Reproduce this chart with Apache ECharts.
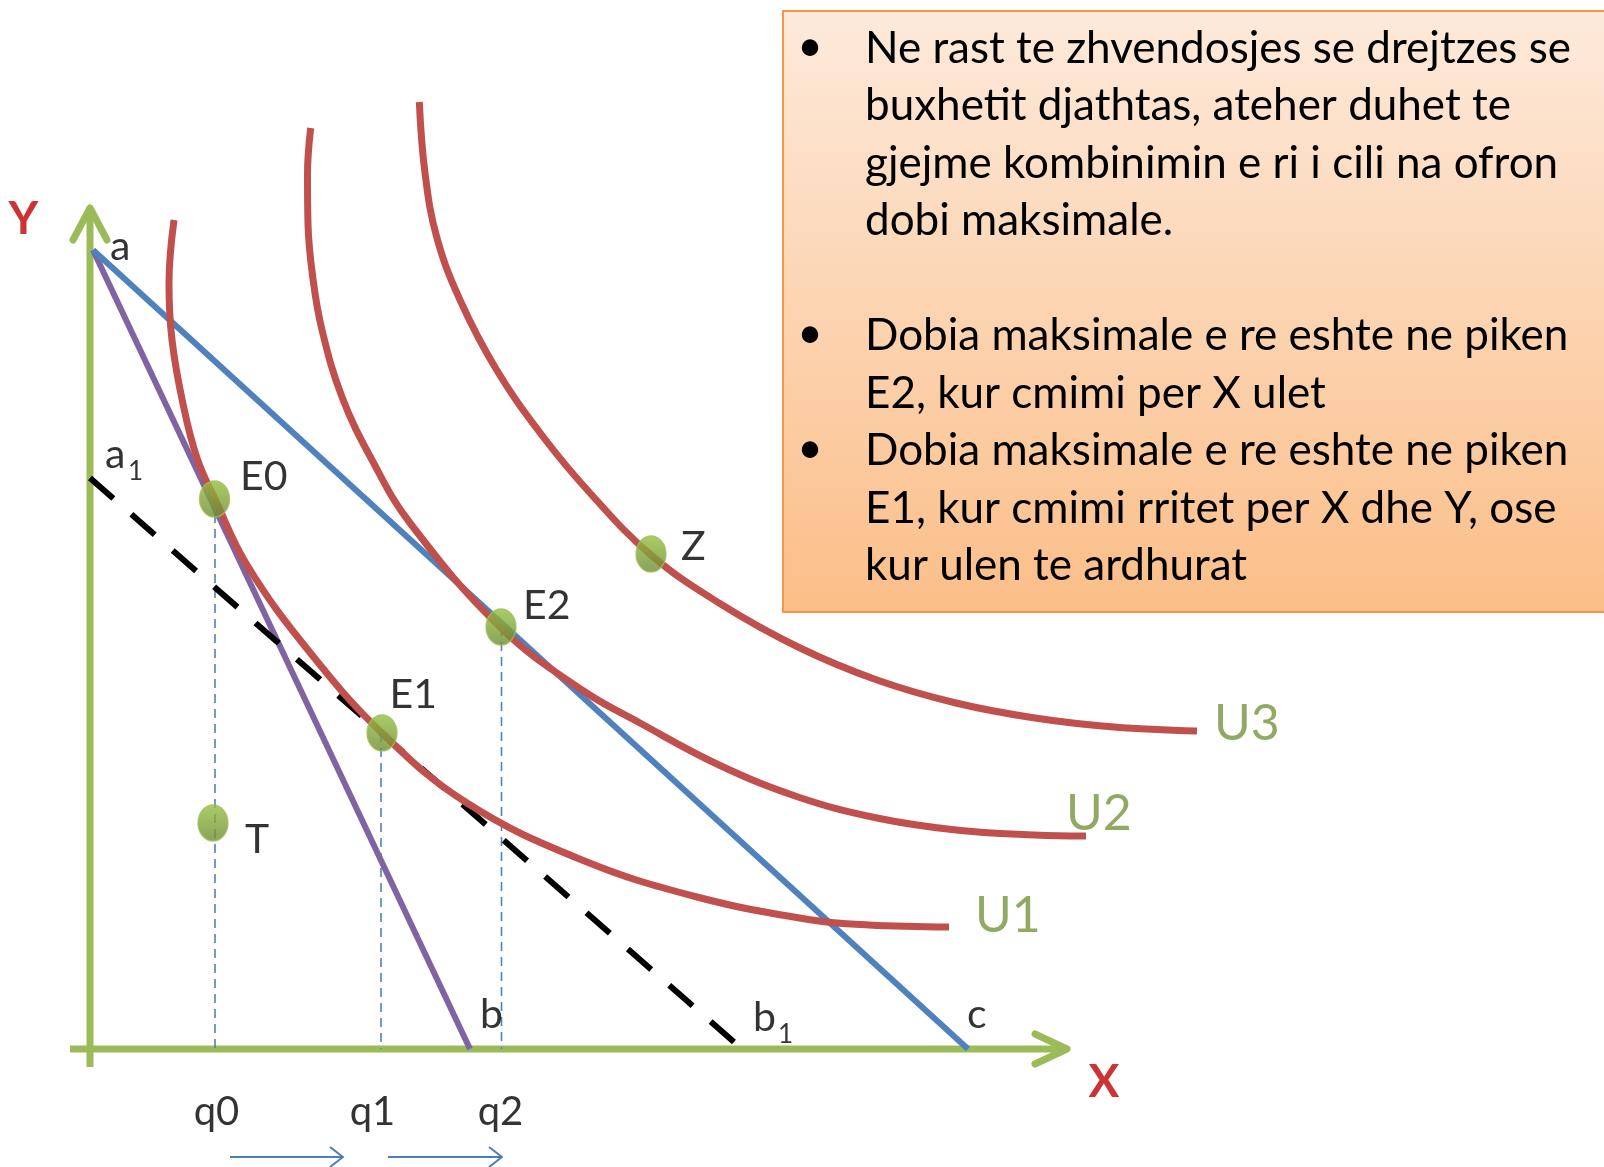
<!DOCTYPE html>
<html>
<head>
<meta charset="utf-8">
<script src="https://cdn.jsdelivr.net/npm/echarts@6/dist/echarts.min.js"></script>
<style>
html,body{margin:0;padding:0;background:#fff;}
#c{width:1604px;height:1167px;}
</style>
</head>
<body>
<div id="c"></div>
<script>
// ---------------- data (chart units: origin at the axes' corner) ----------------
const axisYLine = [[0, -1.8], [0, 84.1]];
const axisXLine = [[-2.0, 0], [97.7, 0]];

const budgetAB = [[0.3, 79.9], [38.0, 0]];     // a -> b (purple)
const budgetAC = [[0.3, 79.9], [87.8, 0]];     // a -> c (blue)
const budgetA1B1 = [[0, 57.1], [65.2, 0]];     // a1 -> b1 (dashed)

const curveU1 = [[8.4,82.9],[7.9,76.6],[8.2,70.9],[9.3,64.5],[10.7,59.1],[12.5,55.0],[15.7,48.4],[21.8,39.9],[29.2,31.6],[37.7,24.6],[49.2,18.9],[60.7,15.2],[72.2,12.9],[77.9,12.4],[85.9,12.2]];
const curveU2 = [[22.07,92.1],[21.75,87.5],[21.8,82.5],[22.3,77.0],[23.2,71.9],[25.2,65.2],[28.2,58.9],[32.0,52.6],[41.1,42.1],[49.2,35.9],[55.0,32.6],[62.9,28.4],[70.8,25.2],[78.7,23.1],[86.6,21.9],[94.5,21.4],[99.6,21.3]];
const curveU3 = [[32.93,94.7],[33.5,87.6],[34.67,81.2],[37.0,74.9],[40.67,67.9],[45.33,61.2],[50.0,55.6],[56.1,49.4],[62.9,44.6],[70.8,40.2],[78.7,36.9],[86.6,34.6],[94.5,33.1],[102.4,32.2],[110.7,31.8]];
const curveNames = ['U1', 'U2', 'U3'];

const pointNames = ['E0', 'E1', 'E2', 'Z', 'T'];
const pointX = [12.45, 29.2, 41.1, 56.1, 12.3];
const pointY = [55.0, 31.6, 42.2, 49.5, 22.6];

const qNames = ['q0', 'q1', 'q2'];
const qX = [12.5, 29.1, 41.15];
const qTopY = [55.0, 31.6, 42.2];

const shiftArrows = [[14.0, 25.3], [29.8, 41.2]];
const shiftArrowY = -10.8;

const lineLetters = ['a', 'b', 'c', 'a1', 'b1'];
const axisNames = ['X', 'Y'];

const boxLines = [
  'Ne rast te zhvendosjes se drejtzes se',
  'buxhetit djathtas, ateher duhet te',
  'gjejme kombinimin e ri i cili na ofron',
  'dobi maksimale.',
  '',
  'Dobia maksimale e re eshte ne piken',
  'E2, kur cmimi per X ulet',
  'Dobia maksimale e re eshte ne piken',
  'E1, kur cmimi rritet per X dhe Y, ose',
  'kur ulen te ardhurat'
];
const bulletLines = [0, 5, 7];

// ---------------- build ----------------
const FONT = 'Lato, "Open Sans", sans-serif';
const GREEN_AXIS = '#9BBB59';
const RED = '#C0504D';
const series = [];

function line(data, color, width, opts) {
  opts = opts || {};
  series.push({
    type: 'line', data: data, showSymbol: false, symbol: 'none', silent: true,
    smooth: opts.smooth || false, clip: false, z: opts.z || 2,
    lineStyle: { color: color, width: width, type: opts.type || 'solid',
                 cap: opts.cap || 'butt', join: 'round' }
  });
}

// axes
line(axisYLine, GREEN_AXIS, 7, { z: 1 });
line(axisXLine, GREEN_AXIS, 7, { z: 1 });
const yt = axisYLine[1], xt = axisXLine[1];
line([[yt[0] - 1.7, yt[1] - 3.2], yt, [yt[0] + 1.7, yt[1] - 3.2]], GREEN_AXIS, 7, { z: 1, cap: 'round' });
line([[xt[0] - 3.2, xt[1] + 1.5], xt, [xt[0] - 3.2, xt[1] - 1.5]], GREEN_AXIS, 7, { z: 1, cap: 'round' });

// dotted drop lines
qX.forEach((x, i) => line([[x, qTopY[i]], [x, 0]], '#4F81BD', 1.6, { z: 2, type: [9, 6] }));

// budget lines
line(budgetAB, '#8064A2', 6, { z: 3 });
line(budgetAC, '#4F81BD', 6, { z: 3 });
line(budgetA1B1, '#000000', 6, { z: 3, type: [31, 24] });

// indifference curves
[curveU1, curveU2, curveU3].forEach(c => line(c, RED, 7, { z: 4, smooth: 0.4 }));

// shift arrows under q labels
shiftArrows.forEach(([x0, x1]) => {
  line([[x0, shiftArrowY], [x1, shiftArrowY]], '#4A7EBB', 2, { z: 2 });
  line([[x1 - 1.3, shiftArrowY + 1.0], [x1, shiftArrowY], [x1 - 1.3, shiftArrowY - 1.0]], '#4A7EBB', 2, { z: 2 });
});

// points
series.push({
  type: 'scatter', z: 5, silent: true,
  symbol: 'circle', symbolSize: [30, 36],
  data: pointX.map((x, i) => [x, pointY[i]]),
  itemStyle: {
    color: new echarts.graphic.LinearGradient(0, 0, 0, 1, [
      { offset: 0, color: '#96C040' }, { offset: 1, color: '#6C8A32' }]),
    borderColor: '#9DC15A', borderWidth: 1.5
  }
});

// annotations
const ann = [];
const styles = {
  blk: { fontSize: 41, color: '#000', align: 'left' },
  sub: { fontSize: 26, color: '#000', align: 'left' },
  grn: { fontSize: 50, color: '#77933C', align: 'left' },
  q:   { fontSize: 40, color: '#000', align: 'center' },
  red: { fontSize: 46, color: '#C00000', align: 'center', fontWeight: 'bold' }
};
function A(pt, text, dx, dy, kind) { ann.push({ pt, text, dx, dy, kind }); }

const ptOff = [[25.5, -22], [7.5, -38], [22, -21.3], [30, -7.3], [32, 17]];
pointNames.forEach((n, i) => A([pointX[i], pointY[i]], n, ptOff[i][0], ptOff[i][1], 'blk'));

A(budgetAB[0], lineLetters[0], 17, -3, 'blk');
A(budgetAB[1], lineLetters[1], 10, -34, 'blk');
A(budgetAC[1], lineLetters[2], -1, -34, 'blk');
A(budgetA1B1[0], lineLetters[3].charAt(0), 15, -23, 'blk');
A(budgetA1B1[0], lineLetters[3].charAt(1), 38, -6, 'sub');
A(budgetA1B1[1], lineLetters[4].charAt(0), 11, -31, 'blk');
A(budgetA1B1[1], lineLetters[4].charAt(1), 36, -14, 'sub');

const uOff = [[26, -11], [-20, -22], [17, -7]];
[curveU1, curveU2, curveU3].forEach((c, i) => A(c[c.length - 1], curveNames[i], uOff[i][0], uOff[i][1], 'grn'));

const qOff = [1.5, -8.5, -1];
qNames.forEach((n, i) => A([qX[i], 0], n, qOff[i], 63, 'q'));

A(axisXLine[1], axisNames[0], 37, 33.5, 'red');
A(axisYLine[1], axisNames[1], -66.5, 11, 'red');

series.push({
  type: 'scatter', z: 6, silent: true, symbolSize: 0,
  data: ann.map(a => ({
    value: a.pt,
    label: Object.assign({
      show: true, position: 'inside', formatter: a.text,
      offset: [a.dx, a.dy], verticalAlign: 'middle', fontFamily: FONT
    }, styles[a.kind])
  }))
});

// text box
const BOX_FS = 44, BOX_LH = 57.5;
const bulletText = boxLines.map((l, i) => bulletLines.indexOf(i) >= 0 ? '\u2022' : '').join('\n');

const option = {
  animation: false,
  backgroundColor: '#ffffff',
  grid: { left: 0, right: 0, top: 0, bottom: 0, containLabel: false },
  xAxis: { type: 'value', min: -9, max: 151.4, show: false },
  yAxis: { type: 'value', min: -11.8, max: 104.9, show: false },
  series: series,
  graphic: [
    {
      type: 'rect', z: 0, silent: true,
      shape: { x: 783, y: 11, width: 830, height: 601 },
      style: {
        fill: new echarts.graphic.LinearGradient(0, 0, 0, 1, [
          { offset: 0, color: '#FDEADB' }, { offset: 1, color: '#FBBE88' }]),
        stroke: '#F79646', lineWidth: 2
      }
    },
    {
      type: 'text', z: 1, silent: true,
      style: {
        text: boxLines.join('\n'), x: 865, y: 20,
        font: BOX_FS + 'px ' + FONT, lineHeight: BOX_LH,
        fill: '#000', align: 'left', verticalAlign: 'top'
      }
    },
    {
      type: 'text', z: 1, silent: true,
      style: {
        text: bulletText, x: 810, y: 18,
        font: BOX_FS + 'px ' + FONT, lineHeight: BOX_LH,
        fill: '#000', align: 'center', verticalAlign: 'top'
      }
    }
  ]
};

const chart = echarts.init(document.getElementById('c'));
chart.setOption(option);
</script>
</body>
</html>
